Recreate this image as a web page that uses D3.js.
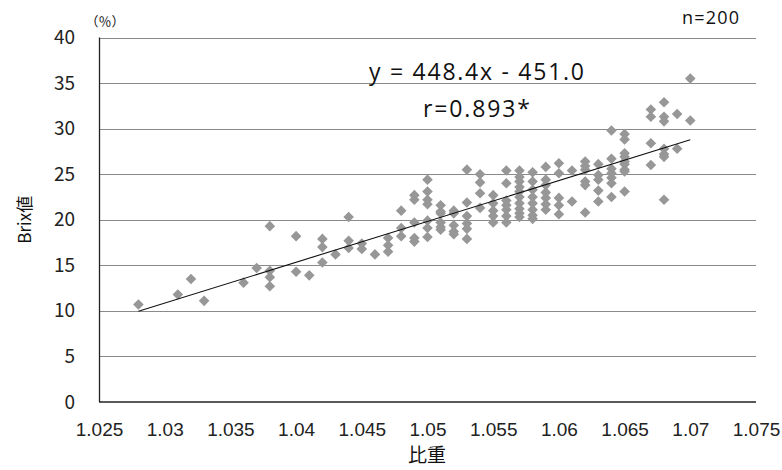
<!DOCTYPE html>
<html>
<head>
<meta charset="utf-8">
<script src="https://cdn.jsdelivr.net/npm/d3@7"></script>
<style>
  body { margin: 0; background: #fff; }
  .tick text { fill: #222; }
</style>
</head>
<body>
<div id="chart"></div>
<script>
// specific gravity (x) and Brix (y)
const sg = [
  1.028, 1.031, 1.032, 1.033, 1.036, 1.037,
  1.038, 1.038, 1.038, 1.038,
  1.040, 1.040, 1.041,
  1.042, 1.042, 1.042, 1.043,
  1.044, 1.044, 1.044, 1.045, 1.045, 1.046,
  1.047, 1.047, 1.047, 1.048, 1.048, 1.048,
  1.049, 1.049, 1.049, 1.049, 1.049,
  1.050, 1.050, 1.050, 1.050, 1.050, 1.050, 1.050,
  1.051, 1.051, 1.051, 1.051, 1.051, 1.051,
  1.052, 1.052, 1.052, 1.052, 1.052,
  1.053, 1.053, 1.053, 1.053, 1.053, 1.053,
  1.054, 1.054, 1.054, 1.054,
  1.055, 1.055, 1.055, 1.055, 1.055,
  1.056, 1.056, 1.056, 1.056, 1.056, 1.056, 1.056,
  1.057, 1.057, 1.057, 1.057, 1.057, 1.057, 1.057, 1.057, 1.057, 1.057,
  1.058, 1.058, 1.058, 1.058, 1.058, 1.058, 1.058, 1.058,
  1.059, 1.059, 1.059, 1.059, 1.059, 1.059, 1.059,
  1.060, 1.060, 1.060, 1.060, 1.060,
  1.061, 1.061,
  1.062, 1.062, 1.062, 1.062, 1.062, 1.062,
  1.063, 1.063, 1.063, 1.063, 1.063,
  1.064, 1.064, 1.064, 1.064, 1.064, 1.064, 1.064,
  1.065, 1.065, 1.065, 1.065, 1.065, 1.065, 1.065, 1.065, 1.065,
  1.067, 1.067, 1.067, 1.067,
  1.068, 1.068, 1.068, 1.068, 1.068, 1.068, 1.068,
  1.069, 1.069, 1.070, 1.070
];
const brix = [
  10.7, 11.8, 13.5, 11.1, 13.1, 14.7,
  19.3, 14.4, 13.7, 12.7,
  18.2, 14.3, 13.9,
  17.9, 17.0, 15.3, 16.2,
  20.3, 17.7, 16.9, 17.4, 16.8, 16.2,
  18.0, 17.2, 16.5, 21.0, 19.1, 18.2,
  22.7, 22.2, 19.7, 18.0, 17.6,
  24.4, 23.1, 22.2, 21.7, 19.9, 19.1, 18.1,
  21.6, 20.9, 20.7, 19.7, 19.2, 18.9,
  21.0, 20.7, 19.4, 18.7, 18.4,
  25.5, 21.9, 20.4, 19.6, 19.0, 17.9,
  25.0, 24.1, 22.9, 21.3,
  22.7, 21.8, 21.0, 20.4, 19.7,
  25.4, 24.0, 22.1, 21.6, 21.1, 20.4, 19.7,
  25.4, 24.7, 24.2, 23.6, 23.1, 22.5, 21.8, 21.2, 20.7, 20.3,
  25.2, 24.2, 23.3, 22.5, 21.8, 21.1, 20.5, 20.1,
  25.8, 24.4, 23.8, 23.0, 22.4, 21.7, 21.1,
  26.2, 25.1, 22.4, 21.6, 20.6,
  25.4, 22.0,
  26.4, 25.9, 25.5, 24.2, 23.8, 20.8,
  26.1, 24.9, 24.4, 23.2, 22.0,
  29.8, 26.7, 25.6, 25.1, 24.6, 24.0, 22.5,
  29.4, 28.8, 27.3, 26.9, 26.4, 26.1, 25.5, 25.3, 23.1,
  32.1, 31.3, 28.4, 26.0,
  32.9, 31.3, 30.8, 27.8, 27.2, 26.9, 22.2,
  31.6, 27.8, 35.5, 30.9
];

const xTicks = [1.025, 1.03, 1.035, 1.04, 1.045, 1.05, 1.055, 1.06, 1.065, 1.07, 1.075];
const yTicks = [0, 5, 10, 15, 20, 25, 30, 35, 40];

// trendline y = 448.4x - 451.0 drawn over the data range
const slope = 448.4;
const intercept = -451.0;
const fitRange = [1.028, 1.070];

const width = 782;
const height = 470;
const margin = {top: 37.5, right: 26, bottom: 68, left: 99};

const svg = d3.select('#chart').append('svg')
    .attr('width', width)
    .attr('height', height)
    .style('font-family', '"Noto Sans CJK JP", "Noto Sans", sans-serif');

const x = d3.scaleLinear()
  .domain([1.025, 1.075])
  .range([margin.left, width - margin.right]);

const y = d3.scaleLinear()
  .domain([0, 40])
  .range([height - margin.bottom, margin.top]);

// horizontal gridlines
svg.append('g')
  .selectAll('line')
  .data(yTicks.filter(v => v > 0))
  .join('line')
    .attr('x1', x.range()[0])
    .attr('x2', x.range()[1])
    .attr('y1', d => Math.round(y(d)) + 0.5)
    .attr('y2', d => Math.round(y(d)) + 0.5)
    .attr('stroke', '#8a8a8a')
    .attr('stroke-width', 1);

const yAxis = svg.append('g')
  .attr('transform', `translate(${margin.left}, 0)`)
  .call(d3.axisLeft(y).tickValues(yTicks).tickSize(0).tickPadding(24));
yAxis.select('.domain').remove();
yAxis.selectAll('text')
  .style('font-size', '19px')
  .style('font-family', '"Noto Sans CJK JP", sans-serif');

const xAxis = svg.append('g')
  .attr('transform', `translate(0, ${height - margin.bottom})`)
  .call(d3.axisBottom(x).tickValues(xTicks).tickFormat(d3.format('')).tickSize(0).tickPadding(21));
xAxis.select('.domain').remove();
xAxis.selectAll('text')
  .style('font-size', '19px')
  .style('font-family', '"Liberation Sans", Arial, sans-serif');

// axis lines
svg.append('line')
  .attr('x1', margin.left + 0.5).attr('x2', margin.left + 0.5)
  .attr('y1', y(40)).attr('y2', y(0))
  .attr('stroke', '#222').attr('stroke-width', 1.3);
svg.append('line')
  .attr('x1', margin.left).attr('x2', x.range()[1])
  .attr('y1', y(0)).attr('y2', y(0))
  .attr('stroke', '#222').attr('stroke-width', 1.3);

// points
const diamond = d3.symbol().type(d3.symbolSquare).size(56);
svg.append('g')
  .selectAll('path')
  .data(sg.map((v, i) => ({sg: v, brix: brix[i]})))
  .join('path')
    .attr('d', diamond)
    .attr('transform', d => `translate(${x(d.sg)}, ${y(d.brix)}) rotate(45)`)
    .attr('fill', '#979797');

// trendline
svg.append('line')
  .attr('x1', x(fitRange[0]))
  .attr('y1', y(slope * fitRange[0] + intercept))
  .attr('x2', x(fitRange[1]))
  .attr('y2', y(slope * fitRange[1] + intercept))
  .attr('stroke', '#111')
  .attr('stroke-width', 1.1);

// annotations
svg.append('text')
  .attr('x', 369).attr('y', 80)
  .attr('textLength', 215)
  .attr('lengthAdjust', 'spacing')
  .style('font-size', '23px')
  .style('font-family', '"Open Sans", sans-serif')
  .attr('fill', '#111')
  .text('y = 448.4x - 451.0');

svg.append('text')
  .attr('x', 423).attr('y', 116.5)
  .attr('textLength', 107)
  .attr('lengthAdjust', 'spacing')
  .style('font-size', '23px')
  .style('font-family', '"Open Sans", sans-serif')
  .attr('fill', '#111')
  .text('r=0.893*');

svg.append('text')
  .attr('x', 682).attr('y', 24)
  .attr('textLength', 57)
  .attr('lengthAdjust', 'spacing')
  .style('font-size', '18px')
  .style('font-family', '"Open Sans", sans-serif')
  .attr('fill', '#111')
  .text('n=200');

svg.append('text')
  .attr('x', 105).attr('y', 26)
  .attr('text-anchor', 'middle')
  .style('font-size', '13px')
  .style('font-feature-settings', '"fwid"')
  .attr('fill', '#111')
  .text('（%）');

svg.append('text')
  .attr('transform', `translate(31, ${y(20)}) rotate(-90)`)
  .attr('text-anchor', 'middle')
  .style('font-size', '17px')
  .attr('fill', '#111')
  .text('Brix値');

svg.append('text')
  .attr('x', 427).attr('y', 462)
  .attr('text-anchor', 'middle')
  .style('font-size', '19px')
  .attr('fill', '#111')
  .text('比重');
</script>
</body>
</html>
